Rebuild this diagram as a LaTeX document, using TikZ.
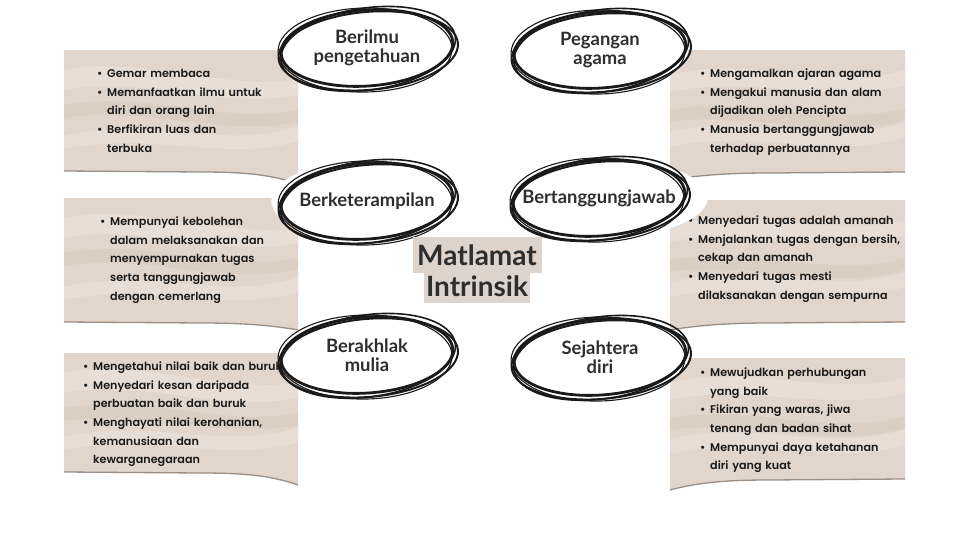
\documentclass[tikz,border=0pt]{standalone}
\usepackage{fontspec}
\IfFontExistsTF{Poppins SemiBold}{\setmainfont{Poppins SemiBold}}{\setmainfont{Poppins}[UprightFont=* Bold]}
\newfontfamily\headfont{Lato}
\usetikzlibrary{shapes.geometric}
\definecolor{paper}{HTML}{E2D5CB}
\definecolor{paperlight}{HTML}{EDE5DE}
\definecolor{paperdark}{HTML}{D6C8BD}
\definecolor{edge}{HTML}{857970}
\definecolor{ink}{HTML}{1A1A1A}
\definecolor{headink}{HTML}{2E2E2E}
\definecolor{hlbg}{HTML}{DED4CC}
\newcommand\nl{\hfil\break}
\newcommand\itm[1]{\hangindent=10pt\hangafter=1\noindent\makebox[10pt][l]{\strut\textbullet}#1\par}
\newcommand\paperL[3]{% top, bottom-left, bottom-right (right side curls down)
  \fill[paper] (64,#1) -- (298,#1) -- (298,#3) .. controls (270,#2+3) and (240,#2+1) .. (200,#2+1) -- (64,#2) -- cycle;
  \fill[paperlight,opacity=.6] (64,#1+20) .. controls (140,#1+5) and (220,#1+40) .. (298,#1+30) -- (298,#1+45) .. controls (220,#1+60) and (140,#1+25) .. (64,#1+40) -- cycle;
  \fill[paperdark,opacity=.5] (64,#1+55) .. controls (150,#1+40) and (220,#1+75) .. (298,#1+60) -- (298,#1+72) .. controls (220,#1+88) and (150,#1+55) .. (64,#1+68) -- cycle;
  \fill[paperlight,opacity=.5] (64,#2-35) .. controls (150,#2-55) and (230,#2-20) .. (298,#2-45) -- (298,#2-30) .. controls (230,#2-8) and (150,#2-40) .. (64,#2-22) -- cycle;
  \draw[edge,line width=1.3pt,opacity=.8] (64,#2) -- (200,#2+1) .. controls (240,#2+1) and (270,#2+3) .. (298,#3);}
\newcommand\paperR[3]{% top, bottom-left (curls down), bottom-right
  \fill[paper] (670,#1) -- (905,#1) -- (905,#3) -- (770,#3+1) .. controls (730,#3+1) and (700,#3+3) .. (670,#2) -- cycle;
  \fill[paperlight,opacity=.6] (670,#1+25) .. controls (750,#1+5) and (830,#1+40) .. (905,#1+20) -- (905,#1+35) .. controls (830,#1+55) and (750,#1+25) .. (670,#1+42) -- cycle;
  \fill[paperdark,opacity=.5] (670,#1+60) .. controls (750,#1+45) and (830,#1+80) .. (905,#1+58) -- (905,#1+70) .. controls (830,#1+92) and (750,#1+60) .. (670,#1+72) -- cycle;
  \fill[paperlight,opacity=.5] (670,#3-40) .. controls (760,#3-60) and (830,#3-25) .. (905,#3-50) -- (905,#3-35) .. controls (830,#3-10) and (760,#3-45) .. (670,#3-25) -- cycle;
  \draw[edge,line width=1.3pt,opacity=.8] (670,#2) .. controls (700,#3+3) and (730,#3+1) .. (770,#3+1) -- (905,#3);}
\newcommand\scrib[1]{%
  \draw[ink,line width=2.8pt,shift={(#1.center)},rotate=4] (0,0) ellipse [x radius=86, y radius=38];
  \draw[ink,line width=1.6pt,shift={(#1.center)},rotate=8] (1,1) ellipse [x radius=88, y radius=41];
  \draw[ink,line width=1.1pt,shift={(#1.center)},rotate=1] (-2,2) ellipse [x radius=87, y radius=42];
  \draw[ink,line width=2pt,shift={(#1.center)},rotate=5] (1,3) ellipse [x radius=90, y radius=39];}
\tikzset{
  txt/.style={anchor=north west,inner sep=0pt,text width=215pt,text=ink,font=\fontsize{11.2}{18.6}\selectfont},
  oval/.style={ellipse,fill=white,minimum width=176pt,minimum height=80pt,inner sep=0pt,align=center,text=headink,font=\headfont\bfseries\fontsize{18.4}{19}\selectfont},
  hl/.style={fill=hlbg,text=headink,inner sep=0pt,font=\headfont\bfseries\fontsize{28}{30}\selectfont}
}
\begin{document}
\begin{tikzpicture}[x=1pt,y=-1pt]
\useasboundingbox (0,0) rectangle (960,540);
\fill[white] (0,0) rectangle (960,540);
% paper boxes
\paperL{50}{171}{184}
\paperL{198}{322}{330}
\paperL{353}{472}{485}
\paperR{50}{180}{172}
\paperR{200}{330}{322}
\paperR{358}{490}{479}
% texts in boxes
\node[txt] (t1) at (97,64.5) {\itm{Gemar membaca}\itm{Memanfaatkan ilmu untuk\nl diri dan orang lain}\itm{Berfikiran luas dan\nl terbuka}};
\node[txt] (t2) at (100,212.5) {\itm{Mempunyai kebolehan\nl dalam melaksanakan dan\nl menyempurnakan tugas\nl serta tanggungjawab\nl dengan cemerlang}};
\node[txt] (t3) at (83,357.5) {\itm{Mengetahui nilai baik dan buruk}\itm{Menyedari kesan daripada\nl perbuatan baik dan buruk}\itm{Menghayati nilai kerohanian,\nl kemanusiaan dan\nl kewarganegaraan}};
\node[txt] (t4) at (700,64.5) {\itm{Mengamalkan ajaran agama}\itm{Mengakui manusia dan alam\nl dijadikan oleh Pencipta}\itm{Manusia bertanggungjawab\nl terhadap perbuatannya}};
\node[txt] (t5) at (688,211.5) {\itm{Menyedari tugas adalah amanah}\itm{Menjalankan tugas dengan bersih,\nl cekap dan amanah}\itm{Menyedari tugas mesti\nl dilaksanakan dengan sempurna}};
\node[txt] (t6) at (700,363.5) {\itm{Mewujudkan perhubungan\nl yang baik}\itm{Fikiran yang waras, jiwa\nl tenang dan badan sihat}\itm{Mempunyai daya ketahanan\nl diri yang kuat}};
% ovals
\node[oval] (e1) at (367,48) {Berilmu\\pengetahuan};
\node[oval] (e2) at (367,201) {Berketerampilan};
\node[oval] (e3) at (367,355) {Berakhlak\\mulia};
\node[oval] (e4) at (600,50) {Pegangan\\agama};
\node[oval] (e5) at (599,198) {Bertanggungjawab};
\node[oval] (e6) at (600,357) {Sejahtera\\diri};
\scrib{e1}\scrib{e2}\scrib{e3}\scrib{e4}\scrib{e5}\scrib{e6}
% centre title
\node[hl,minimum width=129pt,minimum height=36pt] (m1) at (477,255) {Matlamat};
\node[hl,minimum width=106pt,minimum height=34pt] (m2) at (477,286) {Intrinsik};
\end{tikzpicture}
\end{document}
